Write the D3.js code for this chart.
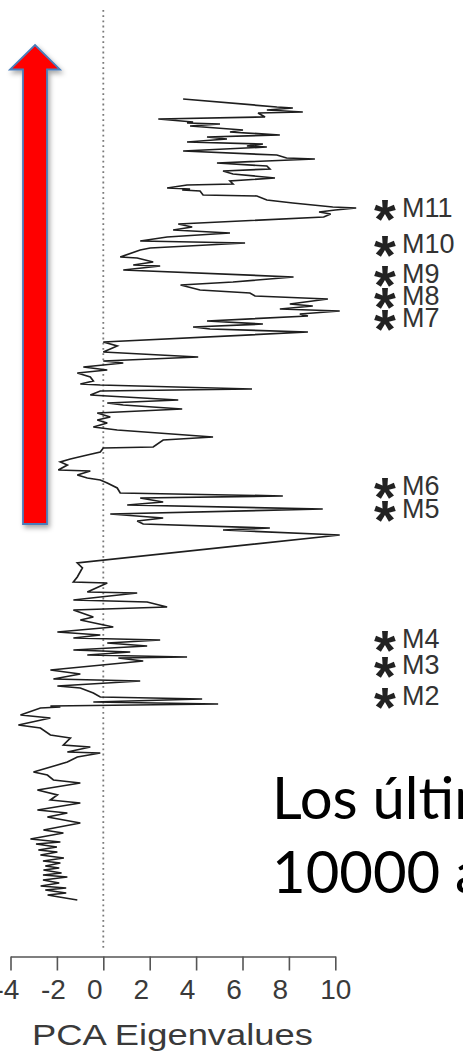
<!DOCTYPE html>
<html>
<head>
<meta charset="utf-8">
<script src="https://cdn.jsdelivr.net/npm/d3@7"></script>
<style>
  html, body { margin: 0; padding: 0; background: #fff; overflow: hidden; }
  svg { display: block; }
</style>
</head>
<body>
<div id="chart"></div>
<script>
/* PCA eigenvalue record through time (top = most recent), with event markers */

// sample position along the core (0 = top) and PCA eigenvalue
const sampleDepth = [
  1, 9, 10, 12, 14, 15, 19, 21, 24, 25, 26, 28, 32, 34, 37, 39, 41, 44, 46, 48,
  49, 53, 57, 60, 61, 65, 68, 71, 73, 76, 80, 83, 86, 87, 90, 91, 92, 93, 97, 98,
  102, 105, 109, 110, 112, 114, 116, 119, 126, 129, 132, 135, 139, 143, 145, 150, 152, 159, 160, 164,
  167, 168, 172, 179, 184, 187, 192, 195, 198, 201, 206, 208, 211, 213, 216, 218, 223, 226, 229, 231,
  234, 244, 248, 254, 257, 259, 263, 265, 269, 272, 275, 279, 283, 286, 287, 291, 293, 297, 298, 302,
  305, 307, 311, 315, 319, 322, 325, 329, 332, 339, 342, 349, 350, 354, 357, 361, 364, 367, 372, 373,
  377, 380, 382, 385, 390, 395, 398, 400, 404, 407, 411, 416, 420, 423, 426, 430, 432, 437, 465, 470,
  479, 484, 485, 494, 495, 499, 502, 504, 509, 512, 519, 522, 529, 534, 537, 540, 542, 545, 548, 552,
  554, 557, 559, 560, 563, 572, 576, 581, 583, 588, 590, 595, 599, 601, 604, 606, 608, 609, 610, 617,
  620, 627, 630, 637, 640, 647, 649, 654, 655, 659, 664, 667, 674, 677, 682, 685, 692, 697, 702, 705,
  712, 715, 719, 725, 732, 735, 741, 744, 746, 749, 752, 754, 757, 760, 763, 765, 768, 770, 772, 775,
  777, 779, 782, 785, 788, 790, 792, 795, 797, 799, 802
];
const pcaValues = [
  3.44, 7.48, 8.17, 7.05, 8.60, 6.67, 6.97, 2.37, 3.87, 3.61, 5.03, 3.74, 6.02, 5.46, 7.61, 4.47, 5.33, 3.61, 6.88, 6.19,
  7.05, 3.44, 7.48, 7.90, 9.12, 4.90, 7.05, 7.18, 5.16, 5.59, 7.40, 5.46, 5.59, 3.61, 2.75, 3.74, 3.40, 4.17, 4.30, 6.62,
  7.05, 8.17, 9.89, 10.9, 10.0, 9.3, 9.8, 9.5, 3.23, 3.83, 3.01, 5.46, 2.75, 1.59, 6.11, 2.02, 1.59, 0.73, 1.46, 2.15,
  1.29, 2.45, 0.86, 8.20, 5.59, 3.33, 4.17, 6.32, 6.54, 9.68, 8.04, 9.03, 7.61, 10.19, 8.47, 8.82, 4.47, 6.88, 3.87, 4.60,
  8.82, 0.00, 0.60, 0.00, 2.45, 4.09, 0.00, 0.86, -0.86, 0.17, -1.12, -0.56, -0.43, -0.99, -0.13, 6.41, -0.13, -0.56, 0.17, 3.23,
  0.17, 0.86, 3.40, -0.26, 0.30, -0.26, 0.17, -0.43, 0.60, 4.73, 2.58, 2.15, 0.00, -0.13, -0.69, -1.42, -1.85, -1.55, -1.94, -0.56,
  -1.12, -0.69, -0.13, 0.17, 0.60, 0.73, 7.74, 1.59, 2.58, 1.03, 9.46, 0.30, 2.58, 1.46, 1.72, 7.18, 5.16, 10.19, -1.12, -0.90,
  -1.12, -1.29, 0.17, -0.69, 1.46, -0.13, -1.29, 1.89, 2.75, -1.29, -0.43, -0.99, 0.43, -1.98, -0.13, -1.29, 2.45, 0.17, 1.89, -1.29,
  1.16, -0.69, 3.61, 0.65, 1.72, -2.28, -0.99, -2.15, 1.59, -1.98, -0.99, -0.43, -0.13, 4.26, -0.43, 4.95, -2.28, -1.85, -2.71, -3.57,
  -2.28, -3.66, -2.71, -2.28, -1.42, -1.72, -0.56, -1.55, -0.13, -1.12, -1.55, -1.98, -3.01, -2.41, -2.15, -0.99, -2.84, -1.98, -2.28, -0.99,
  -2.84, -1.55, -2.41, -0.99, -2.58, -1.72, -3.14, -1.85, -2.90, -2.00, -2.80, -1.98, -2.71, -1.70, -2.60, -1.85, -2.50, -1.90, -2.58, -1.80,
  -2.60, -1.55, -2.60, -1.90, -2.70, -1.60, -2.50, -1.60, -2.40, -1.90, -1.12
];

const xTicks = [-4, -2, 0, 2, 4, 6, 8, 10];
const eventLabels = ["M11", "M10", "M9", "M8", "M7", "M6", "M5", "M4", "M3", "M2"];
const eventDepths = [108.5, 145, 175, 197, 219, 387, 410, 540, 566, 597];
const axisTitle = "PCA Eigenvalues";
const noteLines = ["Los últimos", "10000 años"];

const W = 463, H = 1052;
const svg = d3.select("#chart").append("svg")
  .attr("width", W).attr("height", H)
  .attr("viewBox", `0 0 ${W} ${H}`);

const x = d3.scaleLinear().domain([-4, 10]).range([10.5, 335.3]);
const y = d3.scaleLinear().domain([0, 802]).range([98, 900]);
const axisY = 956.5;
const sans = "'Liberation Sans', Arial, Helvetica, sans-serif";

// arrow (time direction)
const defs = svg.append("defs");
const f = defs.append("filter").attr("id", "shadow")
  .attr("x", "-30%").attr("y", "-10%").attr("width", "170%").attr("height", "130%");
f.append("feDropShadow").attr("dx", 2).attr("dy", 3).attr("stdDeviation", 2.5)
  .attr("flood-color", "#000").attr("flood-opacity", 0.35);

const arrow = d3.path();
arrow.moveTo(35, 45);
arrow.lineTo(60, 69.5);
arrow.lineTo(47, 69.5);
arrow.lineTo(47, 524);
arrow.lineTo(23, 524);
arrow.lineTo(23, 69.5);
arrow.lineTo(10, 69.5);
arrow.closePath();
svg.append("path").attr("d", arrow.toString())
  .attr("fill", "#ff0000").attr("stroke", "#4a7ebb").attr("stroke-width", 1.8)
  .attr("stroke-linejoin", "miter")
  .attr("filter", "url(#shadow)");

// zero reference
svg.append("line")
  .attr("x1", x(0)).attr("x2", x(0)).attr("y1", 10).attr("y2", 950)
  .attr("stroke", "#7a7a7a").attr("stroke-width", 1.8)
  .attr("stroke-dasharray", "1.8,3.4");

// the record
const pts = sampleDepth.map((d, i) => ({ d, v: pcaValues[i] }));
svg.append("path").datum(pts)
  .attr("fill", "none").attr("stroke", "#1e1e1e").attr("stroke-width", 1.7)
  .attr("stroke-linejoin", "miter").attr("stroke-miterlimit", 3)
  .attr("d", d3.line().x(p => x(p.v)).y(p => y(p.d)));

// x axis
const ax = svg.append("g").attr("transform", `translate(0,${axisY})`)
  .call(d3.axisBottom(x).tickValues(xTicks).tickSize(14).tickSizeOuter(0).tickPadding(9)
    .tickFormat(d => String(d)));
ax.select(".domain").attr("stroke", "#555").attr("stroke-width", 1.6);
ax.selectAll(".tick line").attr("stroke", "#555").attr("stroke-width", 1.6);
ax.selectAll(".tick text")
  .attr("fill", "#3a3a3a")
  .style("font-family", sans)
  .style("font-size", "28px")
  .attr("dx", d => d < 0 ? -4 : (d < 10 ? -9 : 0));

svg.append("text")
  .attr("x", 172.5).attr("y", 1045)
  .attr("text-anchor", "middle")
  .attr("textLength", 281).attr("lengthAdjust", "spacingAndGlyphs")
  .attr("fill", "#3a3a3a")
  .style("font-family", sans)
  .style("font-size", "29px")
  .text(axisTitle);

// event markers
const ev = svg.append("g").selectAll("g").data(eventLabels).join("g")
  .attr("transform", (d, i) => `translate(0,${y(eventDepths[i])})`);
ev.append("text")
  .attr("x", 385).attr("y", 31)
  .attr("text-anchor", "middle")
  .attr("fill", "#222")
  .style("font-family", sans)
  .style("font-weight", "bold")
  .style("font-size", "56px")
  .text("*");
ev.append("text")
  .attr("x", 402).attr("y", 10)
  .attr("fill", "#333")
  .style("font-family", sans)
  .style("font-size", "27px")
  .text(d => d);

// slide caption (runs off the right edge as in the source)
svg.append("g").selectAll("text").data(noteLines).join("text")
  .attr("x", 272)
  .attr("y", (d, i) => 819 + i * 74)
  .attr("fill", "#000")
  .style("font-family", "Lato, 'Open Sans', sans-serif")
  .style("font-size", "58px")
  .text(d => d);
</script>
</body>
</html>
